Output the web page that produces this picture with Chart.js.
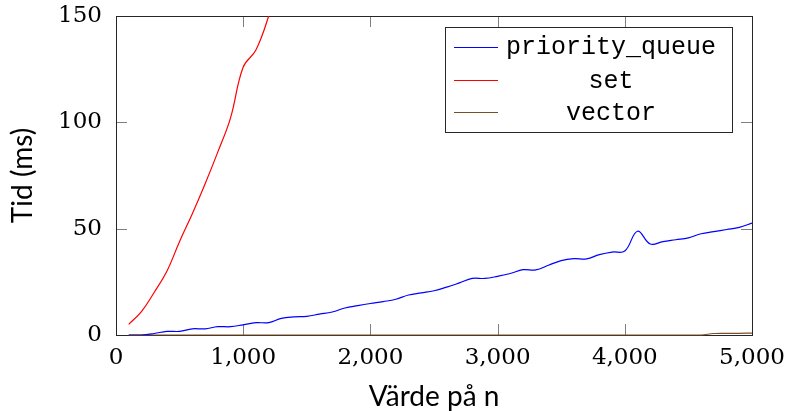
<!DOCTYPE html>
<html>
<head>
<meta charset="utf-8">
<script src="https://cdn.jsdelivr.net/npm/chart.js@4.4.1/dist/chart.umd.min.js"></script>
<style>
  html, body { margin: 0; padding: 0; background: #fff; }
  #wrap { width: 787px; height: 411px; }
</style>
</head>
<body>
<div id="wrap"><canvas id="chart" width="787" height="411"></canvas></div>
<script>
// värden
const nValues = [100, 200, 300, 400, 500, 600, 700, 800, 900, 1000,
  1100, 1200, 1300, 1400, 1500, 1600, 1700, 1800, 1900, 2000,
  2100, 2200, 2300, 2400, 2500, 2600, 2700, 2800, 2900, 3000,
  3100, 3200, 3300, 3400, 3500, 3600, 3700, 3800, 3900, 4000,
  4100, 4200, 4300, 4400, 4500, 4600, 4700, 4800, 4900, 5000];

const priorityQueueTimes = [0, 0, 0.7, 1.7, 1.7, 2.9, 2.9, 3.9, 3.9, 4.8,
  5.8, 5.8, 7.8, 8.5, 8.8, 9.8, 10.8, 12.7, 13.8, 14.8,
  15.7, 16.8, 18.8, 19.8, 20.8, 22.5, 24.5, 26.6, 26.6, 27.6,
  28.9, 30.7, 30.6, 32.8, 35.0, 35.9, 35.8, 37.8, 39.0, 39.5,
  48.8, 42.8, 43.9, 44.8, 45.7, 47.6, 48.6, 49.6, 50.6, 52.6];

const setN = [100, 200, 300, 400, 500, 600, 700, 800, 900, 1000, 1100, 1200, 1300];
const setTimes = [5, 11, 20, 30, 44, 57, 71, 86, 102, 126, 134, 150, 172];

const vectorTimes = [0, 0, 0, 0, 0, 0, 0, 0, 0, 0,
  0, 0, 0, 0, 0, 0, 0, 0, 0, 0,
  0, 0, 0, 0, 0, 0, 0, 0, 0, 0,
  0, 0, 0, 0, 0, 0, 0, 0, 0, 0,
  0, 0, 0, 0, 0, 0, 0.7, 0.8, 0.8, 0.9];

const xTicks = [0, 1000, 2000, 3000, 4000, 5000];
const yTicks = [0, 50, 100, 150];

const toPoints = (xs, ys) => xs.map((x, i) => ({ x: x, y: ys[i] }));

// ram runt ritytan och ticks inåt (som pgfplots)
const frameAndTicks = {
  id: 'frameAndTicks',
  beforeDatasetsDraw(chart) {
    const { ctx, chartArea: a, scales } = chart;
    ctx.save();
    ctx.strokeStyle = '#808080';
    ctx.lineWidth = 1;
    const len = 11;
    ctx.beginPath();
    xTicks.forEach(v => {
      const px = Math.round(scales.x.getPixelForValue(v)) + 0.5;
      ctx.moveTo(px, a.bottom); ctx.lineTo(px, a.bottom - len);
      ctx.moveTo(px, a.top); ctx.lineTo(px, a.top + len);
    });
    yTicks.forEach(v => {
      const py = Math.round(scales.y.getPixelForValue(v)) + 0.5;
      ctx.moveTo(a.left, py); ctx.lineTo(a.left + len, py);
      ctx.moveTo(a.right, py); ctx.lineTo(a.right - len, py);
    });
    ctx.stroke();
    ctx.strokeStyle = '#262626';
    ctx.strokeRect(Math.round(a.left) + 0.5, Math.round(a.top) + 0.5,
      Math.round(a.right - a.left), Math.round(a.bottom - a.top));
    ctx.restore();
  }
};

// legend i övre högra hörnet
const boxLegend = {
  id: 'boxLegend',
  afterDraw(chart) {
    const { ctx } = chart;
    const left = 445, top = 27, right = 732, bottom = 132;
    const rows = [46.7, 80, 112];
    ctx.save();
    ctx.fillStyle = '#fff';
    ctx.fillRect(left, top, right - left, bottom - top);
    ctx.strokeStyle = '#262626';
    ctx.lineWidth = 1;
    ctx.strokeRect(left + 0.5, top + 0.5, right - left, bottom - top);
    ctx.font = '25px "Liberation Mono"';
    ctx.textAlign = 'center';
    ctx.textBaseline = 'middle';
    chart.data.datasets.forEach((ds, i) => {
      const y = rows[i];
      ctx.strokeStyle = ds.borderColor;
      ctx.lineWidth = 1;
      ctx.beginPath();
      ctx.moveTo(454, Math.round(y) + 0.5);
      ctx.lineTo(498, Math.round(y) + 0.5);
      ctx.stroke();
      ctx.fillStyle = '#000';
      ctx.fillText(ds.label, 611, y + 1);
    });
    ctx.restore();
  }
};

new Chart(document.getElementById('chart'), {
  type: 'line',
  data: {
    datasets: [
      {
        label: 'priority_queue',
        data: toPoints(nValues, priorityQueueTimes),
        borderColor: '#0000ff',
      },
      {
        label: 'set',
        data: toPoints(setN, setTimes),
        borderColor: '#ff0000',
      },
      {
        label: 'vector',
        data: toPoints(nValues, vectorTimes),
        borderColor: '#7b4f25',
        clip: 2,
      },
    ],
  },
  options: {
    responsive: false,
    animation: false,
    locale: 'en-US',
    layout: { padding: { left: 0, top: 16, right: 35, bottom: 0 } },
    elements: {
      point: { radius: 0 },
      line: { borderWidth: 1.2, tension: 0.4, fill: false },
    },
    plugins: {
      legend: { display: false },
      tooltip: { enabled: false },
    },
    scales: {
      x: {
        type: 'linear',
        min: 0,
        max: 5000,
        afterBuildTicks: s => { s.ticks = xTicks.map(v => ({ value: v })); },
        afterFit: s => { s.height = 76; s.paddingLeft = 0; s.paddingRight = 0; },
        grid: { display: false, drawTicks: false },
        border: { display: false },
        ticks: {
          color: '#000',
          padding: 9,
          maxRotation: 0,
          font: { family: '"DejaVu Serif"', size: 23 },
          callback: v => v.toLocaleString('en-US'),
        },
        title: {
          display: true,
          text: 'Värde på n',
          color: '#000',
          font: { family: 'Lato', size: 28, lineHeight: 1 },
          padding: { top: 0, bottom: 0 },
        },
      },
      y: {
        type: 'linear',
        min: 0,
        max: 150,
        afterBuildTicks: s => { s.ticks = yTicks.map(v => ({ value: v })); },
        afterFit: s => { s.width = 116; s.paddingTop = 0; s.paddingBottom = 0; },
        grid: { display: false, drawTicks: false },
        border: { display: false },
        ticks: {
          color: '#000',
          padding: 14,
          font: { family: '"DejaVu Serif"', size: 23 },
        },
        title: {
          display: true,
          text: 'Tid (ms)',
          color: '#000',
          font: { family: 'Lato', size: 28, lineHeight: 1 },
          padding: { top: 9, bottom: 0 },
        },
      },
    },
  },
  plugins: [frameAndTicks, boxLegend],
});
</script>
</body>
</html>
